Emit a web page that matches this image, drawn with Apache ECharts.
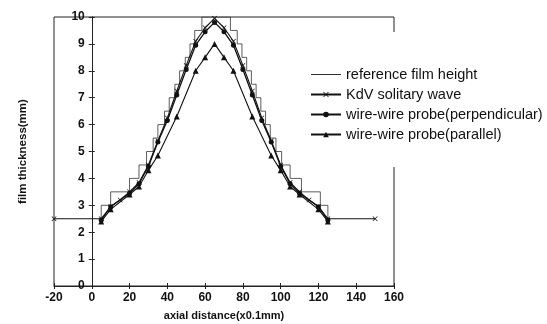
<!DOCTYPE html>
<html>
<head>
<meta charset="utf-8">
<script src="https://cdn.jsdelivr.net/npm/echarts@6/dist/echarts.min.js"></script>
<style>
  html, body { margin: 0; padding: 0; background: #fff; }
  #chart { width: 547px; height: 324px; }
</style>
</head>
<body>
<div id="chart"></div>
<script>
// values (x in 0.1 mm, y in mm)
const refX = [5, 10, 20, 25, 29, 32.5, 35, 38.5, 41, 44, 46.5, 49.5, 52, 54.5, 58.3,
  73.4, 77, 79.5, 82, 84.5, 87, 89.5, 92, 94.5, 97.5, 100.5, 105, 111, 121, 125, 125]
const refY = [2.5, 3.0, 3.5, 4.0, 4.5, 5.0, 5.5, 6.0, 6.5, 7.0, 7.5, 8.0, 8.5, 9.0, 9.5,
  10, 9.5, 9.0, 8.5, 8.0, 7.5, 7.0, 6.5, 6.0, 5.5, 5.0, 4.5, 4.0, 3.5, 3.0, 2.5]

const kdvX = [-20, 5, 10, 15, 20, 25, 30, 35, 40, 45, 50, 55, 60, 65, 70, 75, 80, 85, 90, 95, 100, 105, 110, 115, 120, 125, 150]
const kdvY = [2.5, 2.5, 2.95, 3.2, 3.5, 3.85, 4.5, 5.4, 6.25, 7.25, 8.2, 9.1, 9.6, 9.95, 9.6, 9.1, 8.2, 7.25, 6.25, 5.4, 4.5, 3.85, 3.5, 3.2, 2.95, 2.5, 2.5]

const perpX = [5, 10, 20, 25, 30, 35, 40, 45, 50, 55, 60, 65, 70, 75, 80, 85, 90, 95, 100, 105, 110, 120, 125]
const perpY = [2.45, 2.95, 3.45, 3.8, 4.45, 5.35, 6.15, 7.1, 8.05, 8.95, 9.45, 9.8, 9.45, 8.95, 8.05, 7.1, 6.15, 5.35, 4.45, 3.8, 3.45, 2.95, 2.45]

const paraX = [5, 10, 20, 25, 30, 35, 45, 55, 60, 65, 70, 75, 85, 95, 100, 105, 110, 120, 125]
const paraY = [2.4, 2.85, 3.4, 3.7, 4.3, 4.85, 6.3, 8.0, 8.5, 9.0, 8.5, 8.0, 6.3, 4.85, 4.3, 3.7, 3.4, 2.85, 2.4]

const names = ['reference film height', 'KdV solitary wave', 'wire-wire probe(perpendicular)', 'wire-wire probe(parallel)']

const zip = (xs, ys) => xs.map((x, i) => [x, ys[i]])
const crossMark = 'path://M0,1L1,0L5,4L9,0L10,1L6,5L10,9L9,10L5,6L1,10L0,9L4,5Z'
const lineIcon = 'path://M0,0L30,0L30,1L0,1Z'
const font = 'Liberation Sans, Arial, sans-serif'

const chart = echarts.init(document.getElementById('chart'))

const tickLabel = { color: '#111', fontWeight: 'bold', fontSize: 12, fontFamily: font }
// y axis labels sit beside x = 0, which is 20 units (of 180) in from the left frame
const gridW = 547 - 54 - 153
const yShift = -gridW * 20 / 180

const yBase = { type: 'value', min: 0, max: 10, interval: 1, position: 'left', splitLine: { show: false } }

chart.setOption({
  animation: false,
  backgroundColor: '#fff',
  grid: { left: 54, right: 153, top: 17, bottom: 38, outerBoundsMode: 'none', containLabel: false,
    show: true, borderColor: '#222', borderWidth: 1 },
  legend: {
    orient: 'vertical', left: 300, top: 32,
    padding: [35, 4, 25, 10],
    backgroundColor: '#fff',
    itemWidth: 30, itemHeight: 7, itemGap: 5,
    textStyle: { color: '#111', fontSize: 14.5, fontFamily: font },
    data: [{ name: names[0], icon: lineIcon, itemStyle: { color: '#333' } }, names[1], names[2], names[3]]
  },
  xAxis: [
    {
      type: 'value', min: -20, max: 160, interval: 20,
      name: 'axial distance(x0.1mm)', nameLocation: 'middle', nameGap: 24,
      nameTextStyle: { color: '#111', fontWeight: 'bold', fontSize: 11, fontFamily: font },
      axisLine: { onZero: false, lineStyle: { color: '#222', width: 1 } },
      axisTick: { length: 3, lineStyle: { color: '#222' } },
      axisLabel: Object.assign({ margin: 6 }, tickLabel),
      splitLine: { show: false }
    },
    {
      type: 'value', min: -20, max: 160, interval: 20, position: 'bottom',
      axisLine: { show: false, onZero: false },
      axisTick: { inside: true, length: 3, lineStyle: { color: '#222' } },
      axisLabel: { show: false }, splitLine: { show: false }
    }
  ],
  yAxis: [
    Object.assign({}, yBase, {
      offset: yShift,
      name: 'film thickness(mm)', nameLocation: 'middle', nameGap: 63,
      nameTextStyle: { color: '#111', fontWeight: 'bold', fontSize: 11.5, fontFamily: font },
      axisLine: { show: false, onZero: false },
      axisTick: { show: false },
      axisLabel: Object.assign({ margin: 7 }, tickLabel)
    }),
    Object.assign({}, yBase, {
      axisLine: { show: true, onZero: true, lineStyle: { color: '#222', width: 1 } },
      axisTick: { show: true, length: 3, lineStyle: { color: '#222' } },
      axisLabel: { show: false }
    }),
    Object.assign({}, yBase, {
      axisLine: { show: true, onZero: true, lineStyle: { color: '#222', width: 1 } },
      axisTick: { show: true, inside: true, length: 3, lineStyle: { color: '#222' } },
      axisLabel: { show: false }
    })
  ],
  series: [
    {
      name: names[0], type: 'line', step: 'start', data: zip(refX, refY),
      symbol: 'none', lineStyle: { color: '#333', width: 0.8 }, itemStyle: { color: '#333' }
    },
    {
      name: names[1], type: 'line', data: zip(kdvX, kdvY),
      symbol: crossMark, symbolSize: 5, showAllSymbol: true,
      lineStyle: { color: '#111', width: 1.1 }, itemStyle: { color: '#111' }
    },
    {
      name: names[2], type: 'line', data: zip(perpX, perpY),
      symbol: 'circle', symbolSize: 5, showAllSymbol: true,
      lineStyle: { color: '#111', width: 1.3 }, itemStyle: { color: '#111' }
    },
    {
      name: names[3], type: 'line', data: zip(paraX, paraY),
      symbol: 'triangle', symbolSize: 6, showAllSymbol: true,
      lineStyle: { color: '#111', width: 1.1 }, itemStyle: { color: '#111' }
    }
  ]
})
</script>
</body>
</html>
